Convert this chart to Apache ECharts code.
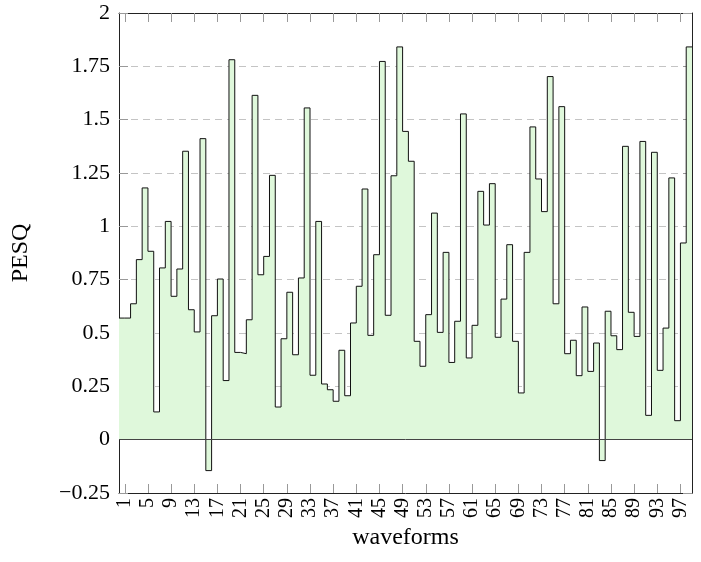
<!DOCTYPE html>
<html>
<head>
<meta charset="utf-8">
<script src="https://cdn.jsdelivr.net/npm/echarts@6/dist/echarts.min.js"></script>
<style>
html,body{margin:0;padding:0;background:#fff;}
#chart{width:701px;height:562px;}
</style>
</head>
<body>
<div id="chart"></div>
<script>
// PESQ per waveform (waveforms 1..98)
const pesq = [
  0.570, 0.637, 0.844, 1.180, 0.883, 0.130, 0.805, 1.023, 0.672, 0.800,
  1.352, 0.609, 0.505, 1.411, -0.145, 0.581, 0.753, 0.277, 1.781, 0.409,
  0.403, 0.562, 1.614, 0.773, 0.859, 1.239, 0.153, 0.473, 0.691, 0.398,
  0.758, 1.555, 0.302, 1.023, 0.261, 0.234, 0.180, 0.419, 0.206, 0.547,
  0.719, 1.175, 0.489, 0.867, 1.773, 0.583, 1.237, 1.841, 1.445, 1.305,
  0.461, 0.344, 0.586, 1.062, 0.503, 0.878, 0.362, 0.555, 1.527, 0.383,
  0.536, 1.164, 1.006, 1.200, 0.480, 0.659, 0.914, 0.461, 0.219, 0.878,
  1.466, 1.222, 1.069, 1.702, 0.637, 1.561, 0.403, 0.466, 0.300, 0.622,
  0.320, 0.453, -0.098, 0.602, 0.487, 0.422, 1.375, 0.597, 0.484, 1.398,
  0.114, 1.347, 0.325, 0.523, 1.227, 0.089, 0.922, 1.841
];
const xTickLabels = [1,5,9,13,17,21,25,29,33,37,41,45,49,53,57,61,65,69,73,77,81,85,89,93,97];
const yTickValues = [-0.25,0,0.25,0.5,0.75,1,1.25,1.5,1.75,2];
const xTitle = 'waveforms';
const yTitle = 'PESQ';

const FONT = "'Liberation Serif','DejaVu Serif',serif";
const X_MIN = 0, X_MAX = pesq.length + 1;

// const plot (mark left): waveform k is held from k to k+1; first value held from axis start
const stepData = [[X_MIN, pesq[0]]]
  .concat(pesq.map((v, i) => [i + 1, v]))
  .concat([[X_MAX, pesq[pesq.length - 1]]]);

function fmtY(v) {
  const r = Math.round(v * 100) / 100;
  if (r < 0) return '\u2212' + String(Math.abs(r));
  return String(r);
}

const axisLineStyle = { color: '#222', width: 1 };
const tickStyle = { color: '#999', width: 1 };

const chart = echarts.init(document.getElementById('chart'), null, { renderer: 'canvas' });
chart.setOption({
  animation: false,
  backgroundColor: '#fff',
  grid: { left: 119, right: 9, top: 13, bottom: 69, containLabel: false },
  xAxis: [
    {
      type: 'value', position: 'bottom', min: X_MIN, max: X_MAX,
      name: xTitle, nameLocation: 'middle', nameGap: 32,
      nameTextStyle: { fontFamily: FONT, fontSize: 24, color: '#000' },
      axisLine: { show: true, onZero: false, lineStyle: axisLineStyle },
      axisTick: { show: true, inside: true, length: 9, lineStyle: tickStyle, customValues: xTickLabels },
      axisLabel: { show: true, rotate: 90, margin: 5, fontFamily: FONT, fontSize: 20, color: '#000',
                   customValues: xTickLabels, formatter: v => String(v) },
      splitLine: { show: false }
    },
    {
      type: 'value', position: 'top', min: X_MIN, max: X_MAX,
      axisLine: { show: true, onZero: false, lineStyle: axisLineStyle },
      axisTick: { show: true, inside: true, length: 9, lineStyle: tickStyle, customValues: xTickLabels },
      axisLabel: { show: false },
      splitLine: { show: false }
    }
  ],
  yAxis: [
    {
      type: 'value', position: 'left', min: -0.25, max: 2, interval: 0.25,
      name: yTitle, nameLocation: 'middle', nameGap: 86, nameRotate: 90,
      nameTextStyle: { fontFamily: FONT, fontSize: 24, color: '#000' },
      axisLine: { show: true, onZero: false, lineStyle: axisLineStyle },
      axisTick: { show: true, inside: true, length: 9, lineStyle: tickStyle },
      axisLabel: { show: true, margin: 9, fontFamily: FONT, fontSize: 22, color: '#000', formatter: fmtY },
      splitLine: { show: true, lineStyle: { color: '#c4c4c4', width: 1, type: [7, 5] } }
    },
    {
      type: 'value', position: 'right', min: -0.25, max: 2, interval: 0.25,
      axisLine: { show: true, onZero: false, lineStyle: axisLineStyle },
      axisTick: { show: true, inside: true, length: 9, lineStyle: tickStyle },
      axisLabel: { show: false },
      splitLine: { show: false }
    }
  ],
  series: [
    {
      type: 'line', xAxisIndex: 0, yAxisIndex: 0,
      step: 'end', data: stepData, showSymbol: false, symbol: 'none',
      lineStyle: { color: '#111', width: 1 },
      areaStyle: { color: '#dff8db', opacity: 1 },
      markLine: {
        silent: true, symbol: 'none', label: { show: false },
        lineStyle: { color: '#444', width: 1, type: 'solid' },
        data: [{ yAxis: 0 }]
      }
    }
  ]
});
</script>
</body>
</html>
